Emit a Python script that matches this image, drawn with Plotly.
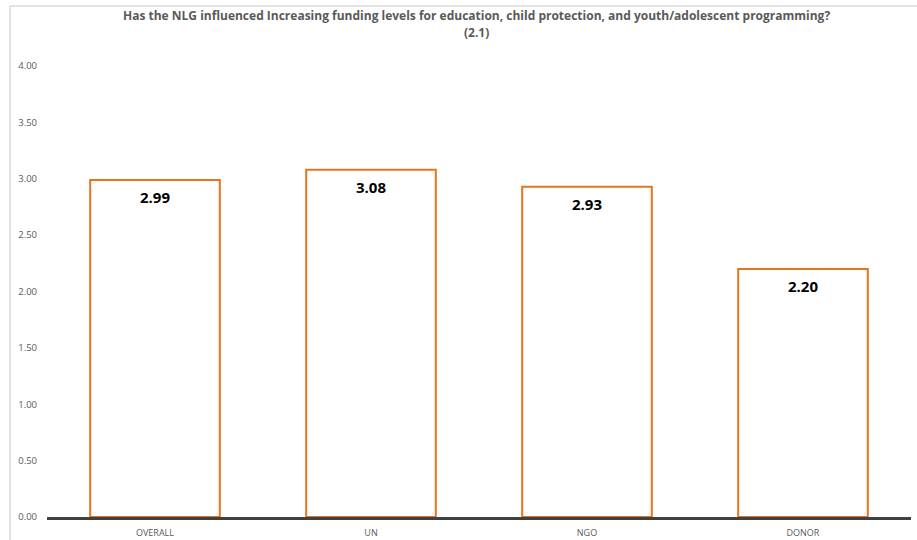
import plotly.graph_objects as go

groups = ["OVERALL", "UN", "NGO", "DONOR"]
scores = [2.99, 3.08, 2.93, 2.20]
y_ticks = [0, 0.5, 1.0, 1.5, 2.0, 2.5, 3.0, 3.5, 4.0]

ORANGE = "#E8731E"
TEXT_GRAY = "#595959"
FONT = "Open Sans, Liberation Sans, sans-serif"
TITLE_LINES = [
    "Has the NLG influenced Increasing funding levels for education, "
    "child protection, and youth/adolescent programming?",
    "(2.1)",
]

fig = go.Figure()
fig.add_trace(go.Bar(
    x=groups,
    y=scores,
    width=0.6,
    marker=dict(color="white", line=dict(color=ORANGE, width=2)),
    hoverinfo="x+y",
))

# value labels placed just inside the top of each bar
for g, v in zip(groups, scores):
    fig.add_annotation(
        x=g, y=v, text=f"<b>{v:.2f}</b>", showarrow=False,
        yanchor="top", yshift=-5,
        font=dict(family=FONT, size=15, color="black"),
    )

# two-line chart title
for line, ypos in zip(TITLE_LINES, [1.1109, 1.0732]):
    fig.add_annotation(
        text=f"<b>{line}</b>", xref="paper", yref="paper",
        x=0.497, y=ypos, xanchor="center", yanchor="middle", showarrow=False,
        font=dict(family=FONT, size=12, color=TEXT_GRAY),
    )

fig.update_layout(
    width=917, height=540,
    margin=dict(l=47, r=6, t=66, b=23),
    paper_bgcolor="white", plot_bgcolor="white",
    showlegend=False,
    font=dict(family=FONT, color=TEXT_GRAY),
    xaxis=dict(
        showline=True, linecolor="#404040", linewidth=2.5,
        ticks="", ticklabelstandoff=5, automargin=False,
        tickfont=dict(family=FONT, size=9, color=TEXT_GRAY),
        showgrid=False, zeroline=False,
    ),
    yaxis=dict(
        range=[0, 4.0], tickvals=y_ticks, tickformat=".2f",
        showgrid=False, zeroline=False, showline=False, ticks="",
        ticklabelstandoff=9, automargin=False,
        tickfont=dict(family=FONT, size=9.5, color=TEXT_GRAY),
    ),
    bargap=0.4,
)

# light frame around the chart area (left and top edges)
fig.add_shape(type="line", xref="paper", yref="paper",
              x0=-0.0428, x1=-0.0428, y0=1.133, y1=-0.06,
              line=dict(color="#D9D9D9", width=1.5))
fig.add_shape(type="line", xref="paper", yref="paper",
              x0=-0.0428, x1=1.007, y0=1.133, y1=1.133,
              line=dict(color="#D9D9D9", width=1.5))

fig.write_html("out.html")
